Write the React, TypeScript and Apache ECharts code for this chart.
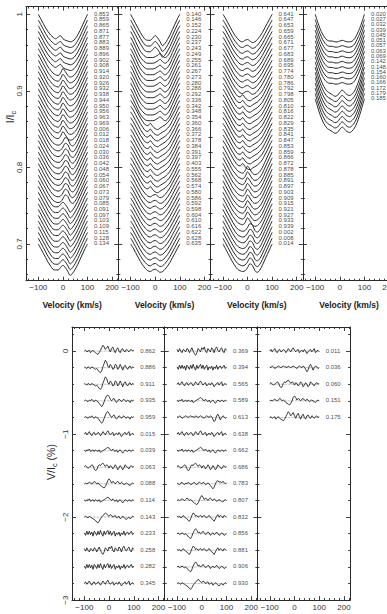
import React, { useEffect, useRef } from "react";
import * as echarts from "echarts";

// ---- velocity grids (km/s) ----
const VEL_I = [-100, -90, -80, -70, -60, -50, -40, -30, -20, -10, 0, 10, 20, 30, 40, 50, 60, 70, 80, 90, 100];
const VEL_V = [-100, -95, -90, -85, -80, -75, -70, -65, -60, -55, -50, -45, -40, -35, -30, -25, -20, -15, -10, -5, 0,
  5, 10, 15, 20, 25, 30, 35, 40, 45, 50, 55, 60, 65, 70, 75, 80, 85, 90, 95, 100];

// ---- Stokes I line shapes: depth below the local continuum ----
const DEPTH_A = [0, .006, .012, .018, .023, .027, .030, .032, .030, .028, .032, .034, .035, .036, .035, .032, .027, .021, .014, .007, 0];
const DEPTH_B = [0, .006, .012, .018, .024, .028, .032, .034, .035, .032, .026, .030, .035, .037, .036, .033, .028, .021, .014, .007, 0];
const DEPTH_C = [0, .006, .012, .018, .024, .029, .033, .035, .036, .035, .031, .026, .028, .035, .037, .034, .028, .021, .014, .007, 0];
const DEPTH_D = [0, .006, .012, .018, .024, .029, .033, .034, .034, .031, .028, .031, .036, .041, .038, .033, .027, .020, .013, .006, 0];
const DEPTH_F = [0, .006, .013, .020, .026, .030, .033, .034, .034, .034, .033, .031, .029, .032, .034, .032, .027, .020, .013, .006, 0];
const DEPTH_G = [0, .005, .011, .017, .023, .028, .032, .033, .030, .034, .037, .038, .036, .034, .032, .029, .025, .019, .013, .006, 0];
const DEPTH_H = [0, .005, .011, .017, .023, .028, .032, .035, .036, .034, .033, .035, .037, .036, .033, .029, .024, .018, .012, .006, 0];
const DEPTH_I = [0, .010, .019, .026, .031, .034, .035, .035, .036, .036, .035, .034, .035, .036, .036, .035, .032, .026, .019, .010, 0];
const DEPTH_J = [0, .011, .021, .029, .035, .039, .041, .043, .045, .044, .040, .037, .040, .043, .044, .042, .038, .031, .022, .011, 0];

// ---- Stokes V signatures (percent of continuum) ----
const V_A = [0.01, 0.00, -0.01, 0.01, 0.00, -0.01, 0.01, 0.00, -0.01, -0.02, -0.01, -0.03, -0.05, -0.06, -0.04, 0.01, 0.05, 0.09, 0.07, 0.02, 0.00, 0.04, 0.02, -0.02, -0.01, 0.04, 0.03, -0.02, 0.00, 0.04, 0.01, -0.03, 0.01, 0.03, 0.00, -0.02, 0.01, 0.02, -0.01, 0.01, 0.00];
const V_B = [0.00, 0.01, -0.01, 0.00, 0.01, -0.02, 0.00, 0.01, -0.01, -0.02, -0.03, -0.04, -0.02, 0.01, 0.04, 0.07, 0.05, 0.02, 0.04, 0.06, 0.02, -0.01, 0.03, 0.05, 0.01, -0.02, 0.02, 0.04, 0.00, -0.02, 0.02, 0.03, 0.00, -0.01, 0.02, 0.01, -0.01, 0.01, 0.02, 0.00, 0.01];
const V_C = [0.00, 0.01, 0.00, -0.01, 0.01, 0.00, 0.02, 0.00, -0.01, 0.01, 0.00, -0.01, -0.03, -0.05, -0.07, -0.05, -0.01, 0.03, 0.06, 0.07, 0.05, 0.02, 0.00, 0.02, 0.03, 0.00, -0.02, 0.00, 0.02, 0.01, -0.01, 0.01, 0.02, 0.00, -0.01, 0.01, 0.00, -0.02, 0.01, 0.00, 0.01];
const V_D = [0.01, -0.01, 0.01, 0.00, 0.02, -0.01, 0.00, 0.01, -0.01, 0.01, 0.00, -0.01, 0.01, -0.02, -0.01, 0.00, 0.01, 0.02, 0.03, 0.04, 0.03, 0.01, 0.00, 0.02, 0.00, -0.01, 0.01, -0.02, 0.00, 0.01, -0.01, -0.03, -0.01, 0.01, 0.00, -0.01, 0.01, 0.00, -0.01, 0.01, 0.00];
const V_E = [0.01, -0.02, 0.03, -0.01, 0.03, -0.01, 0.02, -0.03, 0.03, 0.01, -0.02, 0.03, -0.01, 0.04, 0.00, -0.03, 0.03, -0.01, 0.02, 0.04, -0.01, 0.03, -0.02, 0.01, 0.03, -0.03, 0.01, -0.01, 0.02, -0.03, 0.01, -0.01, 0.03, -0.02, 0.01, 0.02, -0.01, 0.01, 0.03, -0.01, 0.01];
const V_F = [0.00, 0.02, -0.01, 0.01, 0.03, 0.00, -0.02, 0.01, 0.02, -0.01, 0.00, 0.02, 0.01, -0.02, 0.00, 0.03, 0.01, -0.01, 0.02, 0.04, 0.01, -0.01, 0.01, 0.02, -0.02, 0.00, 0.01, -0.01, 0.02, 0.00, -0.03, -0.01, 0.01, 0.02, -0.01, 0.01, 0.03, -0.02, 0.00, 0.01, -0.01];
const V_G = [0.01, 0.00, -0.01, 0.01, 0.02, 0.00, -0.01, 0.01, 0.00, 0.02, 0.01, -0.01, 0.00, 0.01, 0.02, 0.00, -0.01, 0.01, 0.02, 0.01, 0.00, 0.02, 0.01, -0.01, 0.00, 0.01, 0.00, -0.02, -0.04, -0.06, -0.04, 0.00, 0.03, 0.04, 0.02, 0.03, 0.01, 0.03, 0.02, 0.00, 0.01];
const V_H = [0.00, 0.01, -0.01, 0.00, 0.01, 0.00, -0.01, 0.00, -0.02, -0.03, -0.05, -0.06, -0.03, 0.01, 0.04, 0.06, 0.04, 0.01, 0.02, 0.00, 0.01, 0.03, 0.01, -0.01, 0.00, 0.02, 0.01, -0.02, 0.00, 0.01, -0.01, 0.00, 0.02, 0.00, -0.02, -0.01, 0.01, 0.00, -0.02, -0.01, 0.00];
const V_I = [0.01, 0.02, 0.00, -0.01, 0.00, 0.01, 0.03, 0.02, -0.02, -0.04, -0.03, 0.01, 0.03, 0.02, 0.04, 0.05, 0.03, 0.01, 0.03, 0.02, -0.01, 0.02, 0.01, -0.02, 0.00, 0.03, 0.01, -0.03, -0.01, 0.02, 0.00, -0.03, -0.01, 0.03, 0.01, 0.00, -0.02, 0.01, 0.02, 0.00, 0.01];
const V_J = [0.00, 0.01, 0.00, 0.01, 0.02, 0.01, 0.00, 0.01, 0.03, 0.02, 0.00, 0.01, 0.00, -0.02, -0.03, -0.04, -0.05, -0.03, 0.00, 0.04, 0.06, 0.04, 0.01, 0.03, 0.02, 0.00, 0.02, 0.03, 0.01, 0.00, 0.02, 0.01, -0.01, 0.00, 0.01, 0.00, -0.01, -0.02, 0.00, 0.01, 0.00];
const V_K = [0.01, 0.00, 0.02, 0.01, -0.01, 0.00, 0.01, 0.02, 0.01, 0.00, 0.01, 0.02, 0.01, 0.01, 0.00, 0.02, 0.01, 0.00, 0.01, 0.02, 0.01, 0.00, -0.01, 0.01, 0.02, 0.01, 0.00, 0.02, 0.01, -0.02, -0.05, -0.03, 0.02, 0.04, 0.01, -0.03, 0.00, 0.02, 0.01, -0.01, 0.00];
const V_L = [0.02, -0.01, 0.03, 0.00, -0.02, 0.02, 0.01, -0.01, 0.03, 0.02, -0.02, 0.01, 0.04, 0.00, -0.03, -0.05, -0.02, 0.03, 0.01, -0.01, 0.04, 0.02, 0.05, 0.00, -0.02, 0.03, 0.01, -0.01, 0.04, 0.02, -0.02, 0.03, 0.05, 0.01, -0.01, 0.02, 0.04, 0.00, -0.02, 0.03, 0.01];
const V_M = [0.01, 0.00, 0.01, -0.01, 0.00, 0.02, 0.00, -0.01, -0.02, -0.04, -0.05, -0.02, 0.02, 0.05, 0.04, 0.01, 0.02, 0.00, 0.01, 0.02, 0.00, 0.01, 0.02, 0.00, -0.01, 0.01, 0.02, 0.00, -0.02, -0.03, -0.05, -0.02, 0.01, 0.03, 0.00, 0.02, 0.01, -0.01, 0.02, 0.01, 0.00];
const V_N = [0.00, 0.01, 0.00, -0.01, 0.01, 0.00, -0.01, -0.02, -0.03, -0.04, -0.06, -0.07, -0.05, -0.02, 0.00, 0.02, 0.03, 0.05, 0.04, 0.02, 0.01, 0.03, 0.02, 0.00, 0.01, 0.02, -0.01, 0.00, 0.01, -0.02, -0.01, 0.01, 0.00, -0.02, -0.03, -0.01, 0.00, -0.02, -0.01, 0.01, 0.00];

// ---- rotational phases and the shape observed at each ----
const PHASES_I1 = ["0.853", "0.859", "0.865", "0.871", "0.877", "0.883", "0.889", "0.896", "0.902", "0.908", "0.914",
  "0.920", "0.926", "0.932", "0.938", "0.944", "0.950", "0.956", "0.963", "0.969", "0.006", "0.012", "0.018", "0.024",
  "0.030", "0.036", "0.042", "0.048", "0.054", "0.060", "0.067", "0.073", "0.079", "0.085", "0.091", "0.097", "0.103",
  "0.109", "0.115", "0.128", "0.134"];
const SHAPES_I1 = "aaaaaabbbbbbbbbbbbcccccccccccdddddddddddd";
const PHASES_I2 = ["0.140", "0.146", "0.152", "0.224", "0.230", "0.237", "0.243", "0.249", "0.255", "0.261", "0.267",
  "0.273", "0.280", "0.286", "0.292", "0.336", "0.342", "0.348", "0.354", "0.360", "0.366", "0.372", "0.378", "0.384",
  "0.391", "0.397", "0.403", "0.555", "0.562", "0.568", "0.574", "0.580", "0.586", "0.592", "0.598", "0.604", "0.610",
  "0.616", "0.622", "0.628", "0.635"];
const SHAPES_I2 = "dddffffffffffffgggggggggggghhhhhhhhhhhhhh";
const PHASES_I3 = ["0.641", "0.647", "0.653", "0.659", "0.665", "0.671", "0.677", "0.683", "0.689", "0.695", "0.774",
  "0.780", "0.786", "0.792", "0.798", "0.805", "0.810", "0.816", "0.822", "0.829", "0.835", "0.841", "0.847", "0.853",
  "0.859", "0.866", "0.872", "0.878", "0.885", "0.891", "0.897", "0.903", "0.909", "0.915", "0.921", "0.927", "0.933",
  "0.939", "0.002", "0.008", "0.014"];
const SHAPES_I3 = "hhhhhhhhhhgggggggggggggbbbbbbbbbbcccccccc";
const PHASES_I4 = ["0.020", "0.027", "0.032", "0.039", "0.045", "0.051", "0.057", "0.063", "0.069", "0.142", "0.148",
  "0.154", "0.160", "0.166", "0.172", "0.179", "0.185"];
const SHAPES_I4 = "iiiiiiiiijjjjjjjj";

const PHASES_V1 = ["0.862", "0.886", "0.911", "0.935", "0.959", "0.015", "0.039", "0.063", "0.088", "0.114", "0.143",
  "0.233", "0.258", "0.282", "0.345"];
const SHAPES_V1 = "BAACCFDIJDNELEF";
const PHASES_V2 = ["0.369", "0.394", "0.565", "0.589", "0.613", "0.638", "0.662", "0.686", "0.783", "0.807", "0.832",
  "0.856", "0.881", "0.906", "0.930"];
const SHAPES_V2 = "LEFDKFDIGJMHMHN";
const PHASES_V3 = ["0.011", "0.036", "0.060", "0.151", "0.175"];
const SHAPES_V3 = "FKIJB";

// ---- axis ticks ----
const X_MAJOR = [-100, 0, 100, 200];
const X_MINOR = [-140, -120, -80, -60, -40, -20, 20, 40, 60, 80, 120, 140, 160, 180, 220];
const I_MAJOR = [0.7, 0.8, 0.9, 1.0];
const I_MINOR = [0.66, 0.68, 0.72, 0.74, 0.76, 0.78, 0.82, 0.84, 0.86, 0.88, 0.92, 0.94, 0.96, 0.98];
const V_MAJOR = [-3, -2, -1, 0];
const V_MINOR = [-2.8, -2.6, -2.4, -2.2, -1.8, -1.6, -1.4, -1.2, -0.8, -0.6, -0.4, -0.2, 0.2];

const DEPTHS: Record<string, number[]> = {
  a: DEPTH_A, b: DEPTH_B, c: DEPTH_C, d: DEPTH_D, f: DEPTH_F, g: DEPTH_G, h: DEPTH_H, i: DEPTH_I, j: DEPTH_J,
};
const SIGNATURES: Record<string, number[]> = {
  A: V_A, B: V_B, C: V_C, D: V_D, E: V_E, F: V_F, G: V_G, H: V_H, I: V_I, J: V_J, K: V_K, L: V_L, M: V_M, N: V_N,
};

// ---- layout ----
const FONT = '"Liberation Sans", Arial, Helvetica, sans-serif';
const INK = "#111";
const AXIS_INK = "#2a2a2a";
const X_MIN = -150;
const X_MAX = 225;
const I_MIN = 0.652;
const I_MAX = 1.01;
const V_MIN = -3;
const V_MAX = 0.29;
const I_STEP = [0.0075, 0.0075, 0.0075, 0.0069];
const V_STEP = 0.2;
const LABEL_VEL = 126;

const TOP = { left: 26, top: 6.6, width: 92.3, height: 274.1 };
const BOT = { left: 72, top: 327, width: 92.7, height: 273.1 };

const minus = (s: string) => s.replace("-", "\u2212");

function buildOption() {
  const grid: any[] = [];
  const xAxis: any[] = [];
  const yAxis: any[] = [];
  const series: any[] = [];

  const tickStyle = { color: AXIS_INK, width: 0.9 };
  const labelStyle = { fontFamily: FONT, fontSize: 8, color: "#333" };

  const addAxes = (g: number, yMin: number, yMax: number, yMajor: number[], yMinor: number[],
    showY: boolean, yFmt: (v: number) => string) => {
    const base = { type: "value", gridIndex: g, splitLine: { show: false } };
    const xb = { ...base, min: X_MIN, max: X_MAX };
    const yb = { ...base, min: yMin, max: yMax };
    for (const pos of ["bottom", "top"]) {
      xAxis.push({
        ...xb, position: pos,
        axisLine: { show: true, onZero: false, lineStyle: { color: AXIS_INK, width: 1 } },
        axisTick: { show: true, inside: true, length: 4, customValues: X_MAJOR, lineStyle: tickStyle },
        axisLabel: pos === "bottom"
          ? { show: true, customValues: X_MAJOR, margin: 3, ...labelStyle, formatter: (v: number) => minus(String(v)) }
          : { show: false },
      });
      xAxis.push({
        ...xb, position: pos,
        axisLine: { show: false, onZero: false },
        axisTick: { show: true, inside: true, length: 2, customValues: X_MINOR, lineStyle: tickStyle },
        axisLabel: { show: false },
      });
    }
    for (const pos of ["left", "right"]) {
      yAxis.push({
        ...yb, position: pos,
        axisLine: { show: true, onZero: false, lineStyle: { color: AXIS_INK, width: 1 } },
        axisTick: { show: true, inside: true, length: 4, customValues: yMajor, lineStyle: tickStyle },
        axisLabel: pos === "left" && showY
          ? { show: true, customValues: yMajor, rotate: 90, margin: 3, ...labelStyle, formatter: yFmt }
          : { show: false },
      });
      yAxis.push({
        ...yb, position: pos,
        axisLine: { show: false, onZero: false },
        axisTick: { show: true, inside: true, length: 2, customValues: yMinor, lineStyle: tickStyle },
        axisLabel: { show: false },
      });
    }
  };

  const phaseLabels = (g: number, phases: string[], levels: number[]) => ({
    type: "scatter", xAxisIndex: 4 * g, yAxisIndex: 4 * g, silent: true, symbolSize: 0.1,
    itemStyle: { color: "rgba(0,0,0,0)" },
    data: phases.map((p, k) => ({ name: p, value: [LABEL_VEL, levels[k]] })),
    label: {
      show: true, position: "right", distance: 0, formatter: "{b}",
      fontFamily: FONT, fontSize: 6, color: INK, offset: [0, -0.5],
    },
  });

  // Stokes I: four stacked columns
  const topPanels = [
    [PHASES_I1, SHAPES_I1], [PHASES_I2, SHAPES_I2], [PHASES_I3, SHAPES_I3], [PHASES_I4, SHAPES_I4],
  ] as [string[], string][];
  topPanels.forEach(([phases, shapes], p) => {
    const g = grid.length;
    grid.push({ left: TOP.left + p * TOP.width, top: TOP.top, width: TOP.width, height: TOP.height,
      containLabel: false, outerBoundsMode: "none" });
    addAxes(g, I_MIN, I_MAX, I_MAJOR, I_MINOR, p === 0,
      (v: number) => (Math.abs(v - 1) < 1e-9 ? "1" : v.toFixed(1)));
    const levels = phases.map((_, k) => 1 - k * I_STEP[p]);
    phases.forEach((_, k) => {
      const depth = DEPTHS[shapes[k]];
      series.push({
        type: "line", xAxisIndex: 4 * g, yAxisIndex: 4 * g, silent: true, symbol: "none", smooth: 0.35,
        lineStyle: { color: INK, width: 0.9 },
        data: VEL_I.map((v, i) => [v, levels[k] - depth[i]]),
      });
    });
    series.push(phaseLabels(g, phases, levels));
  });

  // Stokes V: three stacked columns
  const botPanels = [
    [PHASES_V1, SHAPES_V1], [PHASES_V2, SHAPES_V2], [PHASES_V3, SHAPES_V3],
  ] as [string[], string][];
  botPanels.forEach(([phases, shapes], p) => {
    const g = grid.length;
    grid.push({ left: BOT.left + p * BOT.width, top: BOT.top, width: BOT.width, height: BOT.height,
      containLabel: false, outerBoundsMode: "none" });
    addAxes(g, V_MIN, V_MAX, V_MAJOR, V_MINOR, p === 0, (v: number) => minus(String(v)));
    const levels = phases.map((_, k) => -k * V_STEP);
    phases.forEach((_, k) => {
      series.push({
        type: "line", xAxisIndex: 4 * g, yAxisIndex: 4 * g, silent: true, symbol: "none",
        lineStyle: { color: "#777", width: 0.7, type: "dotted" },
        data: [[VEL_V[0], levels[k]], [VEL_V[VEL_V.length - 1], levels[k]]],
      });
      const sig = SIGNATURES[shapes[k]];
      series.push({
        type: "line", xAxisIndex: 4 * g, yAxisIndex: 4 * g, silent: true, symbol: "none",
        lineStyle: { color: "#1a1a1a", width: 0.85 },
        data: VEL_V.map((v, i) => [v, levels[k] + sig[i]]),
      });
    });
    series.push(phaseLabels(g, phases, levels));
  });

  const velTitles = [0, 1, 2, 3].map((p) => ({
    type: "text", x: TOP.left + (p + 0.5) * TOP.width, y: 305,
    style: { text: "Velocity (km/s)", align: "center", verticalAlign: "middle",
      fontFamily: FONT, fontSize: 8.5, fontWeight: "bold", fill: "#222" },
  }));

  const yTitle = (x: number, y: number, before: string, after: string) => ({
    type: "text", x, y, rotation: Math.PI / 2,
    style: {
      text: `{m|${before}}{s|c}{m|${after}}`, align: "center", verticalAlign: "middle",
      rich: {
        m: { fontFamily: FONT, fontSize: 10.5, fill: "#222", lineHeight: 15, verticalAlign: "middle" },
        s: { fontFamily: FONT, fontSize: 7.5, fill: "#222", verticalAlign: "bottom" },
      },
    },
  });

  return {
    animation: false,
    backgroundColor: "#fff",
    grid, xAxis, yAxis, series,
    graphic: [...velTitles, yTitle(10, 117, "I/I", ""), yTitle(51, 462, "V/I", " (%)")],
  };
}

export default function App() {
  const ref = useRef<HTMLDivElement>(null);
  useEffect(() => {
    if (!ref.current) return;
    const chart = echarts.init(ref.current, undefined, { renderer: "svg" });
    chart.setOption(buildOption() as any);
    return () => chart.dispose();
  }, []);
  return (
    <div
      ref={ref}
      style={{ position: "fixed", left: 0, top: 0, width: 387, height: 614, background: "#fff" }}
    />
  );
}
